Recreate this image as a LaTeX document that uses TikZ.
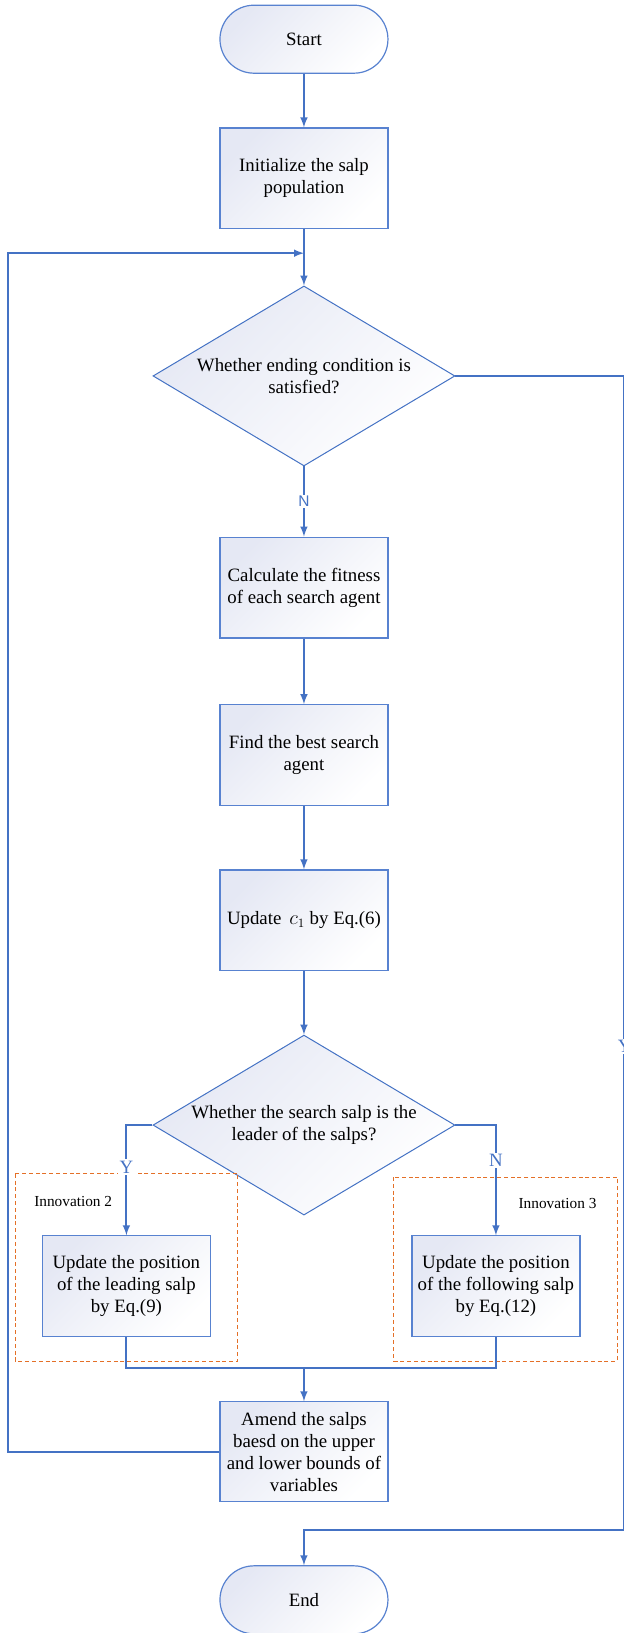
\documentclass[tikz,border=0pt]{standalone}
\usepackage{fontspec}
\setmainfont{Liberation Serif}
\newfontfamily\marksans{Liberation Sans}
\usetikzlibrary{shapes.geometric}
\definecolor{flowblue}{RGB}{68,114,196}
\definecolor{edgeblue}{RGB}{88,130,208}
\definecolor{boxtint}{RGB}{229,232,244}
\definecolor{innoorange}{RGB}{228,112,40}
\tikzset{
  textfont/.style={font=\fontsize{13.4pt}{15.7pt}\selectfont},
  flowbox/.style={draw=edgeblue, line width=0.03cm, top color=boxtint, bottom color=white, shading angle=45,
    minimum width=4.2cm, minimum height=2.52cm, inner sep=0pt, align=center, textfont},
  terminal/.style={flowbox, minimum height=1.7cm, rounded corners=0.85cm},
  decision/.style={diamond, aspect=1.68, draw=flowblue, line width=0.025cm, top color=boxtint, bottom color=white,
    shading angle=45, minimum width=7.55cm, minimum height=4.5cm, inner sep=0pt, align=center, textfont},
  flow/.style={draw=flowblue, line width=0.05cm},
  arrow/.style={flow, -latex},
  yn/.style={fill=white, text=flowblue, inner sep=1pt, textfont},
  nmark/.style={fill=white, text=flowblue, inner sep=1pt, font=\marksans\fontsize{11pt}{13pt}\selectfont},
  inno/.style={draw=innoorange, line width=0.025cm, dash pattern=on 0.1cm off 0.07cm},
  innotext/.style={inner sep=0pt, font=\fontsize{10.9pt}{13pt}\selectfont}
}
\begin{document}
\begin{tikzpicture}
            \useasboundingbox (0,0) rectangle (15.60,-40.83);
            % main column
            \node[terminal] (start) at (7.60,-0.98) {Start};
            \node[flowbox] (init) at (7.60,-4.46) {Initialize the salp\\population};
            \node[decision] (cond) at (7.60,-9.40) {Whether ending condition is\\satisfied?};
            \node[flowbox] (fit) at (7.60,-14.69) {Calculate the fitness\\of each search agent};
            \node[flowbox] (best) at (7.60,-18.88) {Find the best search\\agent};
            \node[flowbox] (updc) at (7.60,-23.01) {Update \,$c_{1}$ by Eq.(6)};
            \node[decision] (lead) at (7.60,-28.13) {Whether the search salp is the\\leader of the salps?};
            % innovation frames
            \draw[inno] (0.38,-29.35) rectangle (5.95,-34.03);
            \node[innotext] (inno2) at (1.83,-30.03) {Innovation 2};
            \draw[inno] (9.85,-29.43) rectangle (15.43,-34.03);
            \node[innotext] (inno3) at (13.94,-30.08) {Innovation 3};
            \node[flowbox] (leadpos) at (3.16,-32.16) {Update the position\\of the leading salp\\by Eq.(9)};
            \node[flowbox] (follpos) at (12.40,-32.16) {Update the position\\of the following salp\\by Eq.(12)};
            \node[flowbox, minimum height=2.50cm] (amend) at (7.60,-36.30) {Amend the salps\\baesd on the upper\\and lower bounds of\\variables};
            \node[terminal] (stop) at (7.60,-40.00) {End};
            % bends
            \coordinate (merge) at (7.60,-6.33);
            \coordinate (loopx) at (0.20,-6.33);
            \coordinate (join) at (7.60,-34.20);
            \coordinate (exitbot) at (15.60,-38.25);
            % connectors
            \draw[arrow] (start) -- (init);
            \draw[arrow] (init) -- (cond);
            \draw[arrow] (cond) -- node[nmark] {N} (fit);
            \draw[arrow] (fit) -- (best);
            \draw[arrow] (best) -- (updc);
            \draw[arrow] (updc) -- (lead);
            \draw[arrow] (lead.west) -| node[yn, pos=0.69] {Y} (leadpos.north);
            \draw[arrow] (lead.east) -| node[yn, pos=0.66] {N} (follpos.north);
            \draw[flow] (leadpos.south) |- (join) -| (follpos.south);
            \draw[arrow] (join) -- (amend);
            \draw[arrow] (amend.west) -| (loopx) -- (merge);
            \draw[arrow] (cond.east) -| (exitbot) -| (stop.north);
            \node[yn] (exitmark) at (15.62,-26.17) {Y};
        \end{tikzpicture}
\end{document}
